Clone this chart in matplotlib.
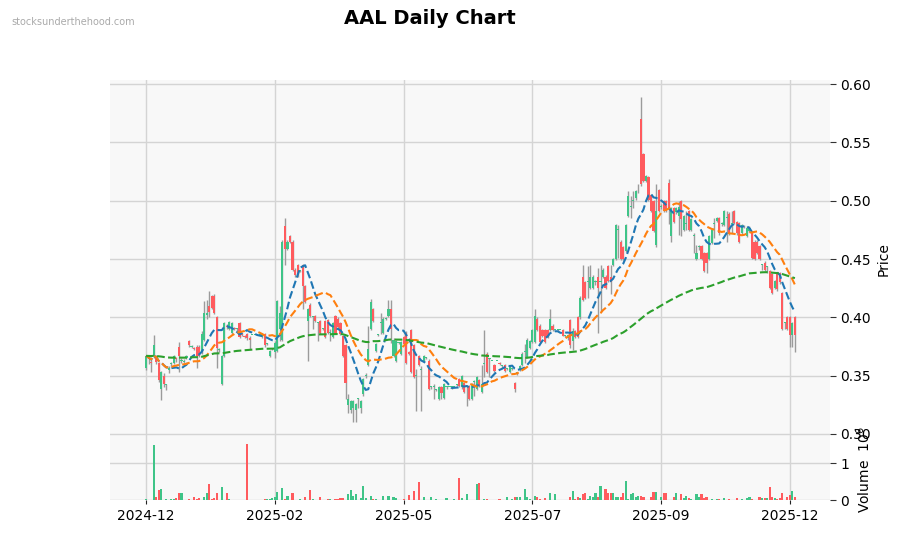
import numpy as np
import pandas as pd
import matplotlib
matplotlib.use("Agg")
import matplotlib.pyplot as plt

title = "AAL Daily Chart"
watermark = "stocksunderthehood.com"
tick_labels = ["2024-12", "2025-02", "2025-05", "2025-07", "2025-09", "2025-12"]
tick_index = [0, 51, 102, 153, 204, 255]

opens = [
    .357, .367, .362, .367, .367, .361, .339, .350, .342, .355,
    .360, .361, .365, .375, .363, .362, .365, .380, .375, .374,
    .375, .375, .370, .381, .402, .410, .418, .418, .400, .372,
    .343, .367, .393, .390, .387, .391, .390, .395, .386, .384,
    .386, .382, .385, .385, .385, .385, .383, .386, .377, .367,
    .373, .370, .371, .390, .381, .478, .459, .470, .465, .441,
    .445, .440, .445, .427, .397, .411, .400, .401, .395, .397,
    .390, .397, .398, .387, .383, .401, .399, .395, .384, .376,
    .325, .321, .322, .321, .330, .322, .334, .350, .359, .390,
    .407, .371, .385, .395, .387, .399, .401, .407, .367, .363,
    .378, .369, .383, .387, .370, .389, .376, .350, .367, .355,
    .363, .365, .363, .340, .340, .338, .330, .340, .331, .340,
    .340, .340, .340, .342, .347, .340, .344, .340, .341, .330,
    .345, .339, .346, .336, .360, .369, .364, .363, .359, .363,
    .361, .358, .359, .356, .353, .356, .344, .352, .355, .359,
    .370, .366, .374, .379, .379, .399, .393, .389, .389, .389,
    .389, .393, .389, .389, .389, .389, .384, .382, .398, .380,
    .388, .400, .400, .435, .430, .430, .425, .425, .430, .435,
    .430, .435, .435, .444, .435, .445, .450, .475, .465, .460,
    .457, .487, .495, .500, .502, .508, .570, .540, .517, .520,
    .505, .500, .462, .509, .495, .500, .500, .515, .470, .494,
    .490, .487, .500, .475, .480, .491, .475, .470, .450, .460,
    .461, .455, .455, .450, .464, .480, .483, .485, .480, .479,
    .485, .489, .480, .491, .482, .481, .472, .478, .470, .474,
    .472, .465, .465, .461, .445, .447, .443, .440, .437, .425,
    .437, .438, .421, .395, .400, .400, .385, .400,
]
highs = [
    .368, .368, .364, .385, .368, .362, .354, .352, .343, .358,
    .362, .368, .366, .379, .365, .364, .368, .381, .376, .375,
    .376, .376, .388, .414, .415, .423, .419, .420, .401, .374,
    .368, .396, .394, .397, .396, .392, .391, .396, .387, .385,
    .387, .384, .385, .385, .385, .386, .387, .387, .378, .372,
    .374, .380, .415, .410, .466, .485, .466, .471, .466, .442,
    .446, .441, .446, .428, .408, .412, .401, .402, .396, .398,
    .391, .398, .399, .390, .396, .402, .400, .396, .385, .377,
    .334, .329, .329, .327, .331, .329, .348, .352, .393, .416,
    .408, .378, .386, .404, .400, .400, .415, .415, .382, .381,
    .379, .380, .384, .388, .371, .390, .377, .356, .368, .358,
    .368, .366, .364, .341, .343, .339, .341, .341, .344, .341,
    .340, .341, .340, .343, .348, .351, .345, .342, .342, .344,
    .346, .350, .347, .359, .389, .370, .365, .363, .360, .363,
    .362, .359, .360, .357, .359, .357, .345, .353, .359, .370,
    .377, .382, .381, .390, .407, .400, .394, .390, .390, .390,
    .407, .394, .389, .390, .389, .390, .385, .386, .399, .391,
    .389, .401, .418, .445, .431, .444, .445, .436, .432, .442,
    .445, .442, .436, .445, .445, .451, .480, .479, .466, .461,
    .480, .508, .504, .508, .509, .514, .589, .541, .522, .521,
    .506, .501, .514, .510, .497, .501, .501, .519, .495, .495,
    .495, .500, .501, .488, .491, .492, .485, .472, .462, .462,
    .462, .456, .456, .471, .476, .485, .486, .486, .482, .492,
    .491, .490, .491, .492, .483, .482, .480, .479, .478, .478,
    .473, .466, .466, .462, .446, .448, .444, .441, .438, .432,
    .438, .439, .422, .396, .401, .401, .396, .401,
]
lows = [
    .355, .360, .353, .365, .360, .345, .329, .340, .338, .352,
    .358, .360, .362, .353, .361, .361, .364, .375, .374, .372,
    .357, .366, .369, .380, .399, .400, .407, .403, .357, .370,
    .342, .366, .390, .389, .386, .389, .388, .382, .384, .382,
    .381, .373, .385, .385, .385, .384, .382, .375, .376, .366,
    .372, .365, .370, .380, .380, .445, .458, .464, .440, .435,
    .435, .439, .407, .412, .363, .400, .390, .396, .380, .386,
    .389, .382, .386, .380, .382, .386, .390, .385, .366, .330,
    .318, .318, .310, .310, .322, .318, .333, .348, .358, .389,
    .396, .370, .384, .386, .386, .398, .400, .378, .366, .362,
    .377, .368, .376, .360, .368, .352, .348, .320, .358, .320,
    .362, .364, .338, .339, .330, .337, .329, .330, .330, .339,
    .340, .339, .340, .341, .340, .339, .335, .324, .329, .329,
    .333, .338, .340, .335, .349, .352, .349, .363, .353, .363,
    .359, .357, .353, .355, .352, .355, .336, .351, .354, .358,
    .361, .365, .373, .378, .378, .388, .378, .383, .378, .382,
    .388, .388, .389, .388, .389, .384, .383, .381, .374, .372,
    .382, .382, .399, .414, .416, .417, .424, .424, .428, .387,
    .405, .434, .424, .430, .420, .444, .449, .451, .449, .449,
    .456, .486, .485, .494, .501, .507, .513, .516, .516, .500,
    .490, .473, .460, .490, .493, .490, .490, .480, .465, .481,
    .489, .471, .470, .474, .475, .474, .474, .455, .449, .458,
    .449, .439, .438, .449, .463, .468, .482, .471, .478, .478,
    .465, .471, .472, .480, .471, .464, .471, .477, .469, .473,
    .450, .449, .454, .449, .441, .440, .438, .424, .420, .424,
    .423, .429, .389, .390, .389, .375, .375, .370,
]
closes = [
    .367, .364, .361, .376, .362, .346, .353, .343, .342, .357,
    .361, .367, .364, .367, .363, .363, .367, .376, .375, .373,
    .367, .367, .386, .404, .404, .405, .408, .404, .374, .372,
    .367, .395, .392, .396, .395, .390, .390, .383, .385, .383,
    .382, .381, .385, .385, .385, .385, .386, .376, .377, .371,
    .373, .378, .414, .404, .465, .459, .465, .465, .441, .436,
    .436, .440, .427, .413, .407, .401, .400, .397, .395, .387,
    .390, .383, .387, .387, .395, .387, .392, .386, .367, .344,
    .330, .328, .328, .326, .330, .328, .347, .350, .373, .413,
    .397, .377, .385, .395, .399, .399, .407, .390, .381, .380,
    .378, .379, .377, .361, .369, .353, .349, .350, .359, .355,
    .367, .365, .339, .340, .340, .338, .340, .335, .343, .340,
    .340, .340, .340, .342, .341, .350, .336, .340, .330, .343,
    .345, .349, .341, .343, .360, .353, .364, .363, .354, .363,
    .360, .358, .354, .356, .358, .356, .339, .352, .358, .369,
    .370, .381, .380, .389, .401, .389, .379, .384, .379, .383,
    .399, .389, .389, .389, .389, .384, .384, .385, .376, .388,
    .383, .383, .417, .415, .417, .430, .435, .435, .430, .425,
    .430, .441, .425, .431, .430, .450, .479, .475, .450, .450,
    .479, .504, .495, .500, .508, .508, .514, .517, .521, .501,
    .491, .474, .491, .491, .495, .491, .491, .494, .494, .482,
    .494, .495, .484, .487, .480, .475, .484, .470, .455, .460,
    .450, .440, .447, .470, .475, .480, .485, .472, .480, .491,
    .485, .472, .480, .481, .472, .465, .479, .478, .477, .477,
    .451, .450, .455, .450, .445, .441, .443, .425, .421, .431,
    .424, .430, .390, .395, .390, .385, .395, .385,
]
# volume in millions of shares
volumes = [
    .03, 0, 0, 1.5, .09, .26, .29, 0, .03, 0,
    .03, .03, .06, .2, .18, 0, 0, .03, 0, .09,
    .02, .05, 0, .09, .2, .43, .03, .06, .2, 0,
    .35, 0, .2, .02, 0, 0, 0, 0, 0, 0,
    1.51, 0, 0, 0, 0, 0, 0, .03, .03, .04,
    .05, .07, .22, 0, .32, .03, .1, 0, .18, 0,
    0, .02, 0, .09, 0, .28, .02, 0, 0, .09,
    0, 0, .03, .03, 0, .03, .03, .06, .06, 0,
    .17, .28, .1, .15, 0, .05, .38, .06, 0, .1,
    .04, .03, 0, 0, .1, 0, .1, 0, .08, .05,
    0, 0, .04, 0, .14, 0, .24, 0, .5, 0,
    .09, 0, 0, .08, 0, .02, 0, 0, 0, .05,
    0, 0, .02, 0, .6, .05, 0, .15, 0, 0,
    0, .42, .45, 0, .04, .02, 0, 0, 0, 0,
    .02, 0, 0, .09, 0, .03, .07, .07, .07, 0,
    .29, .07, .03, 0, .12, .09, .03, 0, .05, 0,
    .18, 0, .15, 0, 0, 0, 0, 0, .09, .23,
    .03, .09, .05, .15, .18, .03, .12, .09, .18, .09,
    .37, 0, .31, .19, .2, .18, .09, .07, .07, .2,
    .51, .03, .15, .2, .07, .12, .12, .09, 0, 0,
    .09, .22, .22, 0, .09, .18, .18, 0, 0, .09,
    .2, 0, .15, .05, .12, .05, .03, 0, .15, .09,
    .15, .05, .09, 0, .03, 0, .03, .03, 0, .05,
    0, .03, 0, 0, .05, 0, .03, 0, .05, .09,
    .03, 0, 0, .09, .05, .05, .05, .34, .09, .05,
    .03, .05, .18, 0, .09, .13, .23, .09,
]
mav_windows = (10, 20)
slow_span = 130

UP = "#3fc488"
DOWN = "#ff5b5e"
WICK = "#9b9b9b"
BG = "#f8f8f8"
GRID = "#d4d4d4"

o = np.array(opens); h = np.array(highs); l = np.array(lows); c = np.array(closes)
v = np.array(volumes)
n = len(c)
x = np.arange(n)
up = c >= o
colors = np.where(up, UP, DOWN)

cs = pd.Series(c)
ma_fast = cs.rolling(mav_windows[0], min_periods=1).mean()
ma_mid = cs.rolling(mav_windows[1], min_periods=1).mean()
ma_slow = cs.ewm(span=slow_span, adjust=False).mean()

W, H = 900, 533
fig = plt.figure(figsize=(9, 5.33), dpi=100)
left, right = 110 / W, 830 / W
ax = fig.add_axes([left, (H - 439) / H, right - left, (439 - 80) / H])
axv = fig.add_axes([left, (H - 500) / H, right - left, (500 - 439) / H], sharex=ax)

for a in (ax, axv):
    a.set_facecolor(BG)
    for s in a.spines.values():
        s.set_visible(False)
    a.grid(True, color=GRID, linewidth=1.0)
    a.set_axisbelow(True)
    a.yaxis.tick_right()
    a.yaxis.set_label_position("right")
    a.tick_params(axis="y", labelsize=10, length=4, color="#333333")

# candles
ax.vlines(x, l, h, color=WICK, linewidth=1.0, zorder=2)
body = np.abs(c - o)
body = np.where(body < 0.0008, 0.0008, body)
bottom = np.minimum(o, c)
ax.bar(x, body, bottom=bottom, width=0.85, color=colors, linewidth=0, zorder=3)

ax.plot(x, ma_fast, color="#1f77b4", linestyle="--", linewidth=1.5, zorder=4)
ax.plot(x, ma_mid, color="#ff7f0e", linestyle="--", linewidth=1.5, zorder=4)
ax.plot(x, ma_slow, color="#2ca02c", linestyle="--", linewidth=1.5, zorder=4)

ax.set_ylim(0.2957, 0.6036)
ax.set_yticks(np.arange(0.30, 0.6001, 0.05))
ax.set_yticklabels([f"{t:.2f}" for t in np.arange(0.30, 0.6001, 0.05)])
ax.set_ylabel("Price", fontsize=10)
ax.tick_params(axis="x", bottom=False, labelbottom=False)

axv.bar(x, v, width=0.85, color=colors, linewidth=0, zorder=3)
axv.set_ylim(0, 1.65)
axv.set_yticks([0, 1])
axv.set_ylabel("Volume  $10^{6}$", fontsize=10)

axv.set_xlim(-14.3, 270.9)
axv.set_xticks(tick_index)
axv.set_xticklabels(tick_labels, fontsize=10)
axv.tick_params(axis="x", length=3, color="#222222")

fig.text(430 / W, 1 - 18 / H, title, ha="center", va="center", fontsize=14, fontweight="bold")
fig.text(11 / W, 1 - 22 / H, watermark, ha="left", va="center", fontsize=7, color="#aaaaaa")

fig.savefig("out.png", dpi=100)
